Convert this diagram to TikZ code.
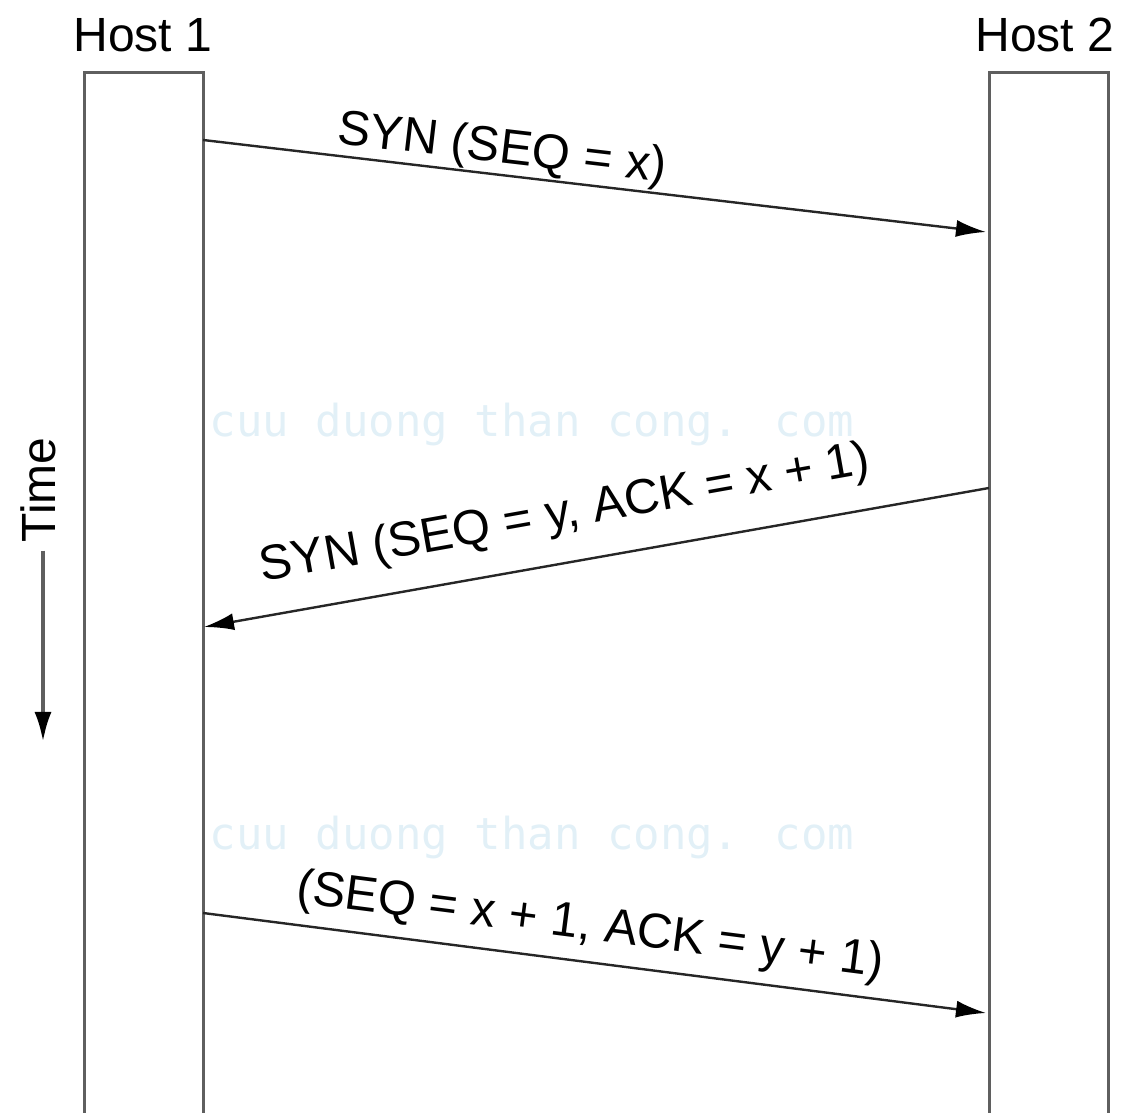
\documentclass[tikz,border=0pt]{standalone}
\usepackage{fontspec}
\setmainfont{Liberation Sans}
\newfontfamily\wmfont{DejaVu Sans Mono}
\usetikzlibrary{arrows.meta}
\definecolor{boxgray}{RGB}{95,95,95}
\definecolor{wmblue}{RGB}{226,240,247}
\tikzset{
  hostbox/.style={draw=none, minimum width=119pt, minimum height=1040pt, inner sep=0pt},
  boxline/.style={draw=boxgray, line width=3pt},
  msg/.style={draw=black!85, line width=2.4pt, -{Latex[length=30pt,width=17pt,color=black]}},
  hostlabel/.style={font=\fontsize{48}{52}\selectfont, inner sep=0pt},
  msglabel/.style={font=\fontsize{49}{52}\selectfont, inner sep=0pt},
  wmark/.style={font=\wmfont\fontsize{44}{48}\selectfont, text=wmblue, inner sep=0pt},
}
\begin{document}
\begin{tikzpicture}[x=1pt,y=1pt]
\useasboundingbox (0,0) rectangle (1124,1113);
% watermark
\node[wmark] (wm1) at (532,688) {cuu duong than cong. com};
\node[wmark] (wm2) at (532,275) {cuu duong than cong. com};
% host boxes (open at the bottom)
\node[hostbox, anchor=south west] (h1) at (84,0) {};
\node[hostbox, anchor=south west] (h2) at (989,0) {};
\draw[boxline] (h1.south west) -- (h1.north west) -- (h1.north east) -- (h1.south east);
\draw[boxline] (h2.south west) -- (h2.north west) -- (h2.north east) -- (h2.south east);
% host labels
\node[hostlabel] (t1) at (143,1078) {Host 1};
\node[hostlabel] (t2) at (1045,1078) {Host 2};
% connector end points
\coordinate (a1s) at (203,973);
\coordinate (a1e) at (986,881);
\coordinate (a2s) at (989,625);
\coordinate (a2e) at (204,486);
\coordinate (a3s) at (203,200);
\coordinate (a3e) at (986,100);
% messages
\draw[msg] (a1s) -- (a1e);
\draw[msg] (a2s) -- (a2e);
\draw[msg] (a3s) -- (a3e);
\node[msglabel, rotate=-6.7] (l1) at (502,963) {SYN (SEQ = x)};
\node[msglabel, rotate=10.1] (l2) at (565,598) {SYN (SEQ = y, ACK = x + 1)};
\node[msglabel, rotate=-7.3] (l3) at (590,186) {(SEQ = x + 1, ACK = y + 1)};
% time axis
\node[hostlabel, rotate=90] (time) at (38,623) {Time};
\coordinate (tend) at (43,371);
\draw[draw=boxgray, line width=4pt, -{Latex[length=30pt,width=17pt,color=black]}] (time.west) ++(5,-8) -- (tend);
\end{tikzpicture}
\end{document}
